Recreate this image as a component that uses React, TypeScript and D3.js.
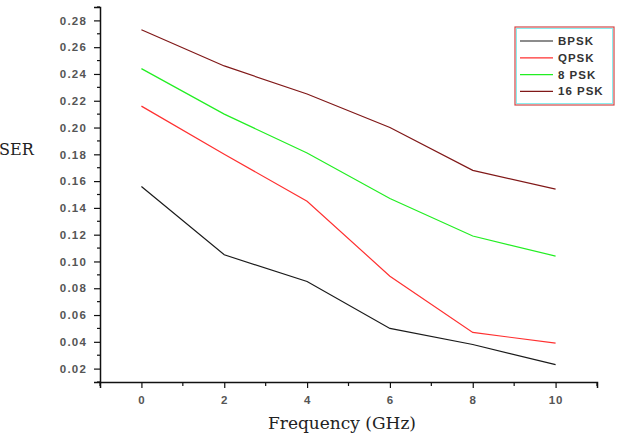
import React, { useEffect, useRef } from "react";
import * as d3 from "d3";

const frequencies = [0, 2, 4, 6, 8, 10];
const bpsk = [0.156, 0.105, 0.085, 0.050, 0.038, 0.023];
const qpsk = [0.216, 0.180, 0.145, 0.089, 0.047, 0.039];
const psk8 = [0.244, 0.210, 0.181, 0.147, 0.119, 0.104];
const psk16 = [0.273, 0.246, 0.225, 0.200, 0.168, 0.154];

const seriesNames = ["BPSK", "QPSK", "8 PSK", "16 PSK"];
const seriesColors = ["#1a1a1a", "#ff3030", "#22ee22", "#801818"];
const seriesValues = [bpsk, qpsk, psk8, psk16];

const yMajorTicks = [0.02, 0.04, 0.06, 0.08, 0.1, 0.12, 0.14, 0.16, 0.18, 0.2, 0.22, 0.24, 0.26, 0.28];
const xMajorTicks = [0, 2, 4, 6, 8, 10];

const W = 618;
const H = 440;

const App: React.FC = () => {
  const ref = useRef<SVGSVGElement | null>(null);

  useEffect(() => {
    if (!ref.current) return;
    const svg = d3.select(ref.current);
    svg.selectAll("*").remove();

    const left = 100;
    const right = 597;
    const top = 7;
    const bottom = 382;

    const x = d3.scaleLinear().domain([-1, 11]).range([left, right]);
    const y = d3.scaleLinear().domain([0.01, 0.29]).range([bottom, top]);

    const tickFont = "Liberation Sans, Arial, sans-serif";

    // y axis
    const yMinor = d3.range(0.01, 0.295, 0.02);
    const yAxis = d3
      .axisLeft(y)
      .tickValues(yMajorTicks)
      .tickSize(6)
      .tickPadding(7)
      .tickFormat(d3.format(".2f"));
    const gy = svg.append("g").attr("transform", `translate(${left},0)`).call(yAxis);
    gy.select(".domain").attr("stroke-width", 1.5).attr("stroke", "#111");
    gy.selectAll(".tick line").attr("stroke-width", 1.2).attr("stroke", "#111");
    gy.selectAll(".tick text")
      .attr("font-family", tickFont)
      .attr("font-size", 11.5)
      .attr("font-weight", "bold")
      .attr("letter-spacing", "1.2px")
      .attr("fill", "#555");
    gy.selectAll(".minor")
      .data(yMinor)
      .enter()
      .append("line")
      .attr("x1", 0)
      .attr("x2", -3)
      .attr("y1", (d) => y(d))
      .attr("y2", (d) => y(d))
      .attr("stroke", "#111")
      .attr("stroke-width", 1.2);

    // x axis
    const xMinor = [-1, 1, 3, 5, 7, 9, 11];
    const xAxis = d3
      .axisBottom(x)
      .tickValues(xMajorTicks)
      .tickSize(6)
      .tickPadding(8)
      .tickFormat(d3.format("d"));
    const gx = svg.append("g").attr("transform", `translate(0,${bottom})`).call(xAxis);
    gx.select(".domain").attr("stroke-width", 1.5).attr("stroke", "#111");
    gx.selectAll(".tick line").attr("stroke-width", 1.2).attr("stroke", "#111");
    gx.selectAll(".tick text")
      .attr("font-family", tickFont)
      .attr("font-size", 11.5)
      .attr("font-weight", "bold")
      .attr("letter-spacing", "1px")
      .attr("fill", "#555");
    gx.selectAll(".minor")
      .data(xMinor)
      .enter()
      .append("line")
      .attr("x1", (d) => x(d))
      .attr("x2", (d) => x(d))
      .attr("y1", 0)
      .attr("y2", 4)
      .attr("stroke", "#111")
      .attr("stroke-width", 1.2);

    // lines
    const line = d3
      .line<number>()
      .x((_, i) => x(frequencies[i]))
      .y((d) => y(d));

    seriesValues.forEach((vals, i) => {
      svg
        .append("path")
        .datum(vals)
        .attr("d", line)
        .attr("fill", "none")
        .attr("stroke", seriesColors[i])
        .attr("stroke-width", 1.2);
    });

    // axis titles
    svg
      .append("text")
      .attr("x", 342)
      .attr("y", 429)
      .attr("text-anchor", "middle")
      .attr("font-family", "DejaVu Serif, serif")
      .attr("font-size", 17)
      .attr("fill", "#222")
      .text("Frequency (GHz)");

    svg
      .append("text")
      .attr("x", -1)
      .attr("y", 155)
      .attr("font-family", "DejaVu Serif, serif")
      .attr("font-size", 16)
      .attr("fill", "#222")
      .text("SER");

    // legend
    const lg = svg.append("g");
    lg.append("rect")
      .attr("x", 515)
      .attr("y", 27)
      .attr("width", 99)
      .attr("height", 78)
      .attr("fill", "white")
      .attr("stroke", "#d04848")
      .attr("stroke-width", 1.2);
    lg.append("rect")
      .attr("x", 516.5)
      .attr("y", 28.5)
      .attr("width", 96)
      .attr("height", 75)
      .attr("fill", "none")
      .attr("stroke", "#88eeee")
      .attr("stroke-width", 1);

    seriesNames.forEach((name, i) => {
      const ly = 41 + i * 16.8;
      lg.append("line")
        .attr("x1", 520)
        .attr("x2", 553)
        .attr("y1", ly)
        .attr("y2", ly)
        .attr("stroke", seriesColors[i])
        .attr("stroke-width", 1.2);
      lg.append("text")
        .attr("x", 558)
        .attr("y", ly)
        .attr("dy", "0.35em")
        .attr("font-family", tickFont)
        .attr("font-size", 11.5)
        .attr("font-weight", "bold")
        .attr("letter-spacing", "1px")
        .attr("fill", "#333")
        .text(name);
    });
  }, []);

  return (
    <svg
      ref={ref}
      width={W}
      height={H}
      style={{ position: "absolute", left: 0, top: 0, background: "white" }}
    />
  );
};

export default App;
